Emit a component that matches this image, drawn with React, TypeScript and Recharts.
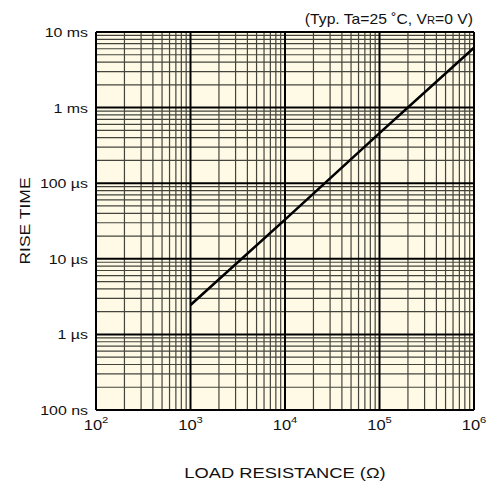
import React from "react";
import {
  LineChart,
  Line,
  XAxis,
  YAxis,
  ReferenceLine,
  ReferenceArea,
} from "recharts";

// load resistance (ohm) and rise time (µs)
const resistance = [1e3, 1e4, 1e5, 1e6];
const riseTime = [2.45, 33, 460, 6200];

const xTicks = [1e2, 1e3, 1e4, 1e5, 1e6];
const xTickExp = ["2", "3", "4", "5", "6"];
const yTicks = [0.1, 1, 10, 100, 1000, 10000];
const yTickLabels = ["100 ns", "1 µs", "10 µs", "100 µs", "1 ms", "10 ms"];

const data = resistance.map((r, i) => ({ r, t: riseTime[i] }));

// minor grid lines at 2..9 of each decade
const minorOf = (majors: number[]) => {
  const out: number[] = [];
  majors.slice(0, -1).forEach(m => {
    for (let k = 2; k <= 9; k++) out.push(m * k);
  });
  return out;
};
const xMinor = minorOf(xTicks);
const yMinor = minorOf(yTicks);

const FONT = "'Liberation Sans', Arial, Helvetica, sans-serif";
const SX = 1.18; // the original lettering is a bit wider than Arial

const XTick = (props: any) => {
  const { x, y, payload } = props;
  const i = xTicks.indexOf(payload.value);
  return (
    <g transform={`translate(${x},${y + 20}) scale(${SX},1)`}>
      <text x={0} y={0} textAnchor="middle" fontSize={14} fontFamily={FONT} fill="#111">
        <tspan>10</tspan>
        <tspan dy={-7} fontSize={9.5}>{xTickExp[i]}</tspan>
      </text>
    </g>
  );
};

const YTick = (props: any) => {
  const { y, payload } = props;
  const i = yTicks.indexOf(payload.value);
  return (
    <g transform={`translate(88,${y + 5}) scale(${SX},1)`}>
      <text x={0} y={0} textAnchor="end" fontSize={13.5} fontFamily={FONT} fill="#111">
        {yTickLabels[i]}
      </text>
    </g>
  );
};

export default function App() {
  return (
    <div style={{ position: "absolute", left: 0, top: 0, background: "#fff" }}>
      <LineChart
        width={493}
        height={487}
        data={data}
        margin={{ top: 32, right: 19, left: 0, bottom: 0 }}
      >
        <XAxis
          dataKey="r"
          type="number"
          scale="log"
          domain={[1e2, 1e6]}
          ticks={xTicks}
          allowDataOverflow
          axisLine={false}
          tickLine={false}
          tickSize={0}
          tickMargin={0}
          height={77}
          tick={<XTick />}
          interval={0}
        />
        <YAxis
          dataKey="t"
          type="number"
          scale="log"
          domain={[0.1, 10000]}
          ticks={yTicks}
          allowDataOverflow
          axisLine={false}
          tickLine={false}
          tickSize={0}
          tickMargin={8}
          width={96}
          tick={<YTick />}
          interval={0}
        />
        <ReferenceArea
          x1={1e2}
          x2={1e6}
          y1={0.1}
          y2={10000}
          fill="#fffae6"
          fillOpacity={1}
          stroke="none"
        />
        {xMinor.map(v => (
          <ReferenceLine key={"xm" + v} x={v} stroke="#45443c" strokeWidth={1.2} />
        ))}
        {yMinor.map(v => (
          <ReferenceLine key={"ym" + v} y={v} stroke="#45443c" strokeWidth={1.2} />
        ))}
        {xTicks.map(v => (
          <ReferenceLine key={"xM" + v} x={v} stroke="#000" strokeWidth={2} />
        ))}
        {yTicks.map(v => (
          <ReferenceLine key={"yM" + v} y={v} stroke="#000" strokeWidth={2} />
        ))}
        <Line
          dataKey="t"
          stroke="#000"
          strokeWidth={2.6}
          dot={false}
          isAnimationActive={false}
        />
        <g transform={`translate(473,24) scale(1.12,1)`}>
          <text x={0} y={0} textAnchor="end" fontSize={14} fontFamily={FONT} fill="#111">
            (Typ. Ta=25 ˚C, V<tspan fontSize={10}>R</tspan>=0 V)
          </text>
        </g>
        <g transform={`translate(285,478) scale(1.22,1)`}>
          <text x={0} y={0} textAnchor="middle" fontSize={15} fontFamily={FONT} fill="#111">
            LOAD RESISTANCE (Ω)
          </text>
        </g>
        <g transform={`translate(30,221) rotate(-90) scale(1.25,1)`}>
          <text x={0} y={0} textAnchor="middle" fontSize={14} fontFamily={FONT} fill="#111">
            RISE TIME
          </text>
        </g>
      </LineChart>
    </div>
  );
}
